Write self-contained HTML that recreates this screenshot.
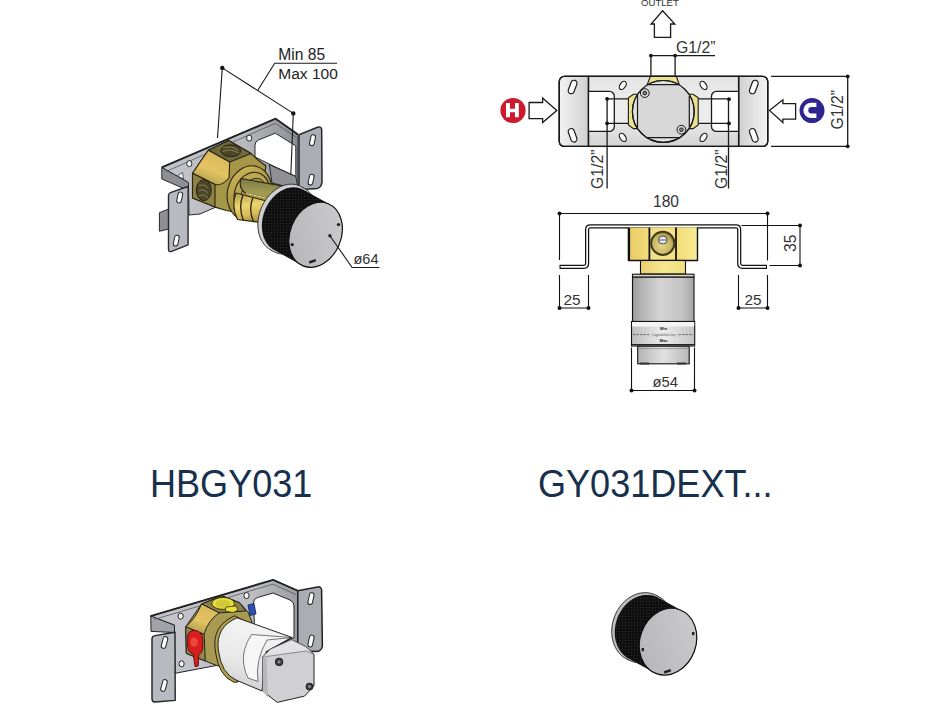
<!DOCTYPE html>
<html><head><meta charset="utf-8">
<style>
html,body{margin:0;padding:0;background:#fff;}
body{width:946px;height:710px;overflow:hidden;position:relative;font-family:"Liberation Sans",sans-serif;}
svg{position:absolute;left:0;top:0;}
text{font-family:"Liberation Sans",sans-serif;}
</style></head>
<body>
<svg width="946" height="710" viewBox="0 0 946 710">
<defs>
  <linearGradient id="plL" x1="0" y1="0" x2="1" y2="0">
    <stop offset="0" stop-color="#f2f2f2"/><stop offset="1" stop-color="#d0d0d0"/>
  </linearGradient>
  <linearGradient id="plR" x1="0" y1="0" x2="1" y2="0">
    <stop offset="0" stop-color="#d0d0d0"/><stop offset="1" stop-color="#f2f2f2"/>
  </linearGradient>
  <linearGradient id="plM" x1="0" y1="0" x2="0" y2="1">
    <stop offset="0" stop-color="#e4e4e4"/><stop offset="0.5" stop-color="#f0f0f0"/><stop offset="1" stop-color="#d4d4d4"/>
  </linearGradient>
  <linearGradient id="brassV" x1="0" y1="0" x2="1" y2="0">
    <stop offset="0" stop-color="#d9b640"/><stop offset="0.5" stop-color="#f3e07a"/><stop offset="1" stop-color="#d2ad36"/>
  </linearGradient>
  <linearGradient id="cart" x1="0" y1="0" x2="1" y2="0">
    <stop offset="0" stop-color="#9a9a9a"/><stop offset="0.15" stop-color="#b4b4b4"/><stop offset="0.45" stop-color="#d4d4d4"/><stop offset="0.8" stop-color="#c4c4c4"/><stop offset="1" stop-color="#a6a6a6"/>
  </linearGradient>
  <linearGradient id="band" x1="0" y1="0" x2="1" y2="0">
    <stop offset="0" stop-color="#bdbdbd"/><stop offset="0.5" stop-color="#ececec"/><stop offset="1" stop-color="#c4c4c4"/>
  </linearGradient>
  <linearGradient id="nut" x1="0" y1="0" x2="1" y2="0">
    <stop offset="0" stop-color="#b4b4b4"/><stop offset="0.5" stop-color="#e2e2e2"/><stop offset="1" stop-color="#b8b8b8"/>
  </linearGradient>
  <linearGradient id="brk1" x1="0" y1="0" x2="1" y2="0">
    <stop offset="0" stop-color="#c4c6cc"/><stop offset="0.6" stop-color="#b8bac0"/><stop offset="1" stop-color="#8c8e94"/>
  </linearGradient>
  <linearGradient id="brassHi" x1="0" y1="1" x2="0.4" y2="0">
    <stop offset="0" stop-color="#9c9448"/><stop offset="0.55" stop-color="#e4c462"/><stop offset="1" stop-color="#d8b85a"/>
  </linearGradient>
  <linearGradient id="brassRing" x1="0" y1="0" x2="1" y2="1">
    <stop offset="0" stop-color="#dcc060"/><stop offset="0.5" stop-color="#a49444"/><stop offset="1" stop-color="#cdb456"/>
  </linearGradient>
  <linearGradient id="spin" x1="0" y1="0" x2="0" y2="1">
    <stop offset="0" stop-color="#8e8a48"/><stop offset="0.5" stop-color="#c8b456"/><stop offset="0.8" stop-color="#ecd070"/><stop offset="1" stop-color="#b49a40"/>
  </linearGradient>
  <linearGradient id="brk2" x1="0" y1="0" x2="1" y2="0">
    <stop offset="0" stop-color="#c4c6cc"/><stop offset="0.7" stop-color="#bcbec4"/><stop offset="1" stop-color="#9a9ca2"/>
  </linearGradient>
  <linearGradient id="cylG" x1="0.3" y1="0" x2="0" y2="1">
    <stop offset="0" stop-color="#f4f4f4"/><stop offset="0.55" stop-color="#e8e8e8"/><stop offset="1" stop-color="#c8c8c8"/>
  </linearGradient>
  <linearGradient id="cylEnd" x1="0" y1="0" x2="1" y2="0">
    <stop offset="0" stop-color="#cfcfcf"/><stop offset="1" stop-color="#ededed"/>
  </linearGradient>
  <linearGradient id="face" x1="1" y1="0" x2="0" y2="1">
    <stop offset="0" stop-color="#cdcdcf"/><stop offset="1" stop-color="#b4b4b6"/>
  </linearGradient>
  <linearGradient id="brL" x1="0" y1="0" x2="1" y2="0">
    <stop offset="0" stop-color="#e8cc62"/><stop offset="0.3" stop-color="#f2dc7e"/><stop offset="0.6" stop-color="#f8e894"/><stop offset="0.8" stop-color="#f2e084"/><stop offset="1" stop-color="#f8ec98"/>
  </linearGradient>
  <linearGradient id="brR" x1="0" y1="0" x2="1" y2="0">
    <stop offset="0" stop-color="#f2dc78"/><stop offset="1" stop-color="#f8ec96"/>
  </linearGradient>
  <linearGradient id="brN" x1="0" y1="0" x2="1" y2="0">
    <stop offset="0" stop-color="#ecd070"/><stop offset="0.5" stop-color="#f6e690"/><stop offset="1" stop-color="#f2e07c"/>
  </linearGradient>
  <radialGradient id="port" cx="0.45" cy="0.6" r="0.6">
    <stop offset="0" stop-color="#e6d890"/><stop offset="0.7" stop-color="#c8b460"/><stop offset="1" stop-color="#8c7c38"/>
  </radialGradient>
  <linearGradient id="spinO" x1="0" y1="0" x2="0" y2="1">
    <stop offset="0" stop-color="#7c7a44"/><stop offset="0.6" stop-color="#a49c54"/><stop offset="1" stop-color="#8c8444"/>
  </linearGradient>
  <linearGradient id="spinB" x1="0" y1="0" x2="0.2" y2="1">
    <stop offset="0" stop-color="#b0a04c"/><stop offset="0.45" stop-color="#ecd46e"/><stop offset="0.75" stop-color="#d8bc58"/><stop offset="1" stop-color="#a89440"/>
  </linearGradient>
  <pattern id="knurl" width="3" height="3" patternUnits="userSpaceOnUse">
    <rect width="3" height="3" fill="#0e0e0e"/><circle cx="1.5" cy="1.5" r="0.65" fill="#2a2a2a"/>
  </pattern>
</defs>

<!-- ============ TITLES ============ -->
<text x="150" y="497" font-size="38.5" fill="#16304d" transform="translate(150 0) scale(0.937 1) translate(-150 0)">HBGY031</text>
<text x="538" y="497" font-size="38.5" fill="#16304d" transform="translate(538 0) scale(0.937 1) translate(-538 0)">GY031DEXT...</text>

<!-- ============ PLAN VIEW (top right) ============ -->
<g id="plan" stroke="#1a1a1a" stroke-width="1.3" fill="none">
  <text x="641" y="5.6" font-size="9.6" fill="#333" stroke="none">OUTLET</text>
  <path d="M662.6 10.7 L674.8 24 L670.6 24 L670.6 37.4 L654.4 37.4 L654.4 24 L651.1 24 Z" fill="#fff"/>
  <!-- plate -->
  <rect x="559.3" y="76.4" width="208.4" height="70" rx="5" fill="#dcdcdc"/>
  <path d="M564.3 76.4 H588.5 V146.4 H564.3 A5 5 0 0 1 559.3 141.4 V81.4 A5 5 0 0 1 564.3 76.4Z" fill="url(#plL)"/>
  <path d="M738.6 76.4 H762.7 A5 5 0 0 1 767.7 81.4 V141.4 A5 5 0 0 1 762.7 146.4 H738.6 Z" fill="url(#plR)"/>
  <rect x="588.5" y="76.4" width="150.1" height="70" fill="url(#plM)"/>
  <!-- pipe band -->
  <rect x="607" y="98.8" width="122" height="24.6" fill="#ececec" stroke="none"/>
  <!-- inner rounded rects -->
  <path d="M588.5 91.3 H609.3 A5 5 0 0 1 614.3 96.3 V126.4 A5 5 0 0 1 609.3 131.4 H588.5" fill="#fff"/>
  <path d="M738.6 91.3 H716.5 A5 5 0 0 0 711.5 96.3 V126.4 A5 5 0 0 0 716.5 131.4 H738.6" fill="#fff"/>
  <rect x="559.3" y="76.4" width="208.4" height="70" rx="5" fill="none"/>
  <line x1="588.5" y1="76.4" x2="588.5" y2="146.4"/>
  <line x1="738.6" y1="76.4" x2="738.6" y2="146.4"/>
  <!-- pipe lines -->
  <line x1="607" y1="98.8" x2="729" y2="98.8"/>
  <line x1="607" y1="123.4" x2="729" y2="123.4"/>
  <!-- slots -->
  <g fill="#fff" stroke-width="1.2">
    <rect x="-3" y="-7" width="6" height="14" rx="3" transform="translate(572.6 87) rotate(20)"/>
    <rect x="-3" y="-7" width="6" height="14" rx="3" transform="translate(572.6 135.3) rotate(-20)"/>
    <rect x="-3" y="-7" width="6" height="14" rx="3" transform="translate(753.8 87) rotate(20)"/>
    <rect x="-3" y="-7" width="6" height="14" rx="3" transform="translate(753.8 135.3) rotate(-20)"/>
    <ellipse cx="0" cy="0" rx="2.8" ry="4.6" transform="translate(622.8 85.4) rotate(35)"/>
    <ellipse cx="0" cy="0" rx="2.8" ry="4.6" transform="translate(622.8 137.4) rotate(-35)"/>
    <ellipse cx="0" cy="0" rx="2.8" ry="4.6" transform="translate(703.5 85.4) rotate(-35)"/>
    <ellipse cx="0" cy="0" rx="2.8" ry="4.6" transform="translate(703.5 137.4) rotate(35)"/>
  </g>
  <!-- brass lugs -->
  <path d="M650.4 76.4 H676.3 L680.5 88 H646 Z" fill="#ece290" stroke-width="1.1"/>
  <path d="M628.4 97.8 L633.5 94.2 H642 V128.6 H633.5 L628.4 125 Z" fill="#ece290" stroke-width="1.1"/>
  <path d="M698.2 97.8 L693.1 94.2 H684.6 V128.6 H693.1 L698.2 125 Z" fill="#ece290" stroke-width="1.1"/>
  <!-- body -->
  <circle cx="663.3" cy="111.4" r="30.9" fill="#e2e2e2" stroke-width="1.2"/>
  <path d="M647 84.6 H679.7 L689.3 95.9 V127.4 L679.7 137.6 H646.8 L637.5 128 V94.2 Z" fill="#d8d8d8" stroke="none"/>
  <path d="M647 84.6 H679.7 M689.3 95.9 V127.4 M679.7 137.6 H646.8 M637.5 128 V94.2" stroke-width="1.2"/>
  <circle cx="663.3" cy="111.4" r="30.9" fill="none" stroke-width="1.2"/>
  <g fill="#d4d4d4" stroke-width="1">
    <circle cx="644.8" cy="93.1" r="4.4"/><circle cx="644.8" cy="93.1" r="1.8" fill="#8a8a8a"/>
    <circle cx="681.4" cy="129.7" r="4.4"/><circle cx="681.4" cy="129.7" r="1.8" fill="#8a8a8a"/>
  </g>
  <!-- dims inside -->
  <line x1="607.1" y1="98.8" x2="607.1" y2="188.5"/>
  <line x1="728.5" y1="98.8" x2="728.5" y2="188.5"/>
  <g fill="#111" stroke="none">
    <circle cx="607.1" cy="98.8" r="1.9"/><circle cx="607.1" cy="123.3" r="1.9"/>
    <circle cx="729" cy="99.2" r="1.9"/><circle cx="729" cy="123.4" r="1.9"/>
    <circle cx="650.9" cy="55.6" r="1.9"/><circle cx="675.1" cy="55.6" r="1.9"/>
    <circle cx="847.7" cy="76.4" r="1.9"/><circle cx="847.7" cy="146.3" r="1.9"/>
  </g>
  <!-- top G1/2 dim -->
  <polyline points="650.9,75.8 650.9,55.6 715,55.6"/>
  <line x1="675.1" y1="55.6" x2="675.1" y2="75.8"/>
  <text x="676" y="52.5" font-size="15.8" fill="#333" stroke="none">G1/2”</text>
  <!-- right G1/2 dim -->
  <polyline points="771,76.4 847.7,76.4 847.7,146.3 771,146.3"/>
  <text transform="translate(843 129.5) rotate(-90)" font-size="15.8" fill="#333" stroke="none">G1/2”</text>
  <text transform="translate(603.2 189) rotate(-90)" font-size="15.8" fill="#333" stroke="none">G1/2”</text>
  <text transform="translate(727 189) rotate(-90)" font-size="15.8" fill="#333" stroke="none">G1/2”</text>
  <!-- arrows -->
  <path d="M556.8 110.4 L542.6 98 L542.6 102.5 L529.1 102.5 L529.1 118.7 L542.6 118.7 L542.6 122.6 Z" fill="#fff"/>
  <path d="M769.4 110.4 L782.9 99.8 L782.9 103.6 L795.6 103.6 L795.6 119.2 L782.9 119.2 L782.9 122.6 Z" fill="#fff"/>
  <circle cx="513" cy="110.5" r="12.6" fill="#cc1a2e" stroke="none"/>
  <path d="M506 102.9 H510 V108.7 H515 V102.9 H518.8 V117.3 H515 V112.2 H510 V117.3 H506 Z" fill="#fff" stroke="none"/>
  <circle cx="812" cy="110.6" r="12.5" fill="#2e2590" stroke="none"/>
  <path d="M816.4 102.7 H811 A7.65 7.65 0 0 0 811 118 H816.4 V113.5 H811.5 A3.2 3.2 0 0 1 811.5 107.1 H816.4 Z" fill="#fff" stroke="none"/>
</g>

<!-- ============ SIDE VIEW (top right lower) ============ -->
<g id="side" stroke="#111" stroke-width="1.1" fill="none">
  <text x="653" y="207.4" font-size="15.6" fill="#333" stroke="none">180</text>
  <polyline points="559.5,260 559.5,213.5 767.5,213.5 767.5,260.5"/>
  <g fill="#111" stroke="none">
    <circle cx="559.5" cy="213.5" r="2"/><circle cx="767.5" cy="213.5" r="2"/>
    <circle cx="800" cy="225.5" r="2"/><circle cx="800" cy="265.5" r="2"/>
    <circle cx="559.5" cy="308" r="2"/><circle cx="588.5" cy="308" r="2"/>
    <circle cx="738.5" cy="308" r="2"/><circle cx="767.5" cy="308" r="2"/>
    <circle cx="631.5" cy="390.5" r="2"/><circle cx="694.5" cy="390.5" r="2"/>
  </g>
  <!-- bracket profile -->
  <path d="M559.5 266.8 H584 Q587.1 266.8 587.1 263.5 V229.5 Q587.1 226.4 590.5 226.4 H736 Q739.2 226.4 739.2 229.5 V263.5 Q739.2 266.8 742.5 266.8 H767" stroke="#111" stroke-width="4.2"/>
  <path d="M560.6 266.8 H584 Q587.1 266.8 587.1 263.5 V229.5 Q587.1 226.4 590.5 226.4 H736 Q739.2 226.4 739.2 229.5 V263.5 Q739.2 266.8 742.5 266.8 H766" stroke="#fff" stroke-width="1.7"/>
  <!-- 35 dim -->
  <polyline points="741.5,225.5 800,225.5 800,265.5 769.5,265.5"/>
  <text transform="translate(796 252) rotate(-90)" font-size="15.8" fill="#333" stroke="none">35</text>
  <!-- 25 dims -->
  <polyline points="559.5,275 559.5,308 588.5,308 588.5,275"/>
  <polyline points="738.5,275 738.5,308 767.5,308 767.5,275"/>
  <text x="563.5" y="305.4" font-size="15.4" fill="#333" stroke="none">25</text>
  <text x="744.5" y="305.4" font-size="15.4" fill="#333" stroke="none">25</text>
  <!-- brass body -->
  <rect x="628.5" y="227.5" width="69" height="33" fill="url(#brL)" stroke="none"/>
  <rect x="649.5" y="227.5" width="26.5" height="33" fill="#f2e08a" stroke="none"/>
  <rect x="676.5" y="227.5" width="21" height="33" fill="url(#brR)" stroke="none"/>
  <line x1="649.4" y1="227.5" x2="649.4" y2="260.5" stroke-width="1.8"/>
  <line x1="676" y1="227.5" x2="676" y2="260.5" stroke-width="1.8"/>
  <path d="M628.5 227.5 V260.5 H697.5 V227.5" stroke-width="1.4"/>
  <line x1="629" y1="228" x2="629" y2="260" stroke-width="2.2"/>
  <circle cx="662.8" cy="243.3" r="11.6" fill="url(#port)" stroke="#3e3818" stroke-width="2"/>
  <rect x="658.6" y="236.2" width="8.4" height="7.6" rx="3.6" fill="#e6eef4" stroke="#333" stroke-width="0.9"/>
  <line x1="659" y1="240" x2="666.6" y2="240" stroke="#556" stroke-width="1"/>
  <!-- neck -->
  <rect x="640.5" y="260.5" width="45" height="13.5" fill="url(#brN)" stroke-width="1.1"/>
  <!-- cartridge -->
  <rect x="632.5" y="274.2" width="61.5" height="3" fill="#dcd8c6" stroke-width="1.1"/>
  <rect x="632.5" y="277.2" width="61.5" height="44.3" fill="url(#cart)" stroke-width="1.1"/>
  <rect x="631.5" y="321.5" width="63.2" height="24.5" fill="url(#band)" stroke-width="1.1"/>
  <rect x="632" y="322" width="62.2" height="4.5" fill="#f4f4f4" stroke="none"/>
  <line x1="632" y1="344.6" x2="694" y2="344.6" stroke-width="1"/>
  <line x1="633" y1="334.6" x2="693" y2="334.6" stroke="#444" stroke-width="0.7" stroke-dasharray="2.5 1"/>
  <rect x="650" y="333.2" width="27" height="2.8" fill="#e2e2e2" stroke="none"/>
  <text x="663.6" y="335.8" font-size="3" fill="#555" stroke="none" text-anchor="middle">Logystar/lock ring</text>
  <text x="663.6" y="330" font-size="4.2" fill="#222" stroke="none" text-anchor="middle" font-weight="bold">Min</text>
  <text x="663.6" y="342" font-size="4.2" fill="#222" stroke="none" text-anchor="middle" font-weight="bold">Max</text>
  <rect x="637.7" y="346.2" width="51.5" height="17.6" fill="url(#nut)" stroke-width="1.1"/>
  <line x1="638" y1="348.6" x2="689" y2="348.6" stroke="#888" stroke-width="0.7"/>
  <rect x="640" y="362.5" width="9" height="2" fill="#333" stroke="none"/>
  <rect x="677" y="362.5" width="9" height="2" fill="#333" stroke="none"/>
  <!-- 54 dim -->
  <polyline points="631.5,347.5 631.5,390.5 694.5,390.5 694.5,347.5"/>
  <text x="652.5" y="387.2" font-size="14.8" fill="#333" stroke="none">ø54</text>
</g>

<!-- ============ ISO PRODUCT 1 (top left) ============ -->
<g id="iso1">
  <!-- dimension Min/Max -->
  <g stroke="#1a1a1a" stroke-width="1.1" fill="none">
    <line x1="222.3" y1="67.9" x2="293.3" y2="113.4"/>
    <polyline points="257.8,90.3 274.7,63.3 337.1,63.3"/>
    <line x1="222.3" y1="67.9" x2="217.5" y2="138"/>
  </g>
  <circle cx="222.3" cy="67.9" r="2.2" fill="#111"/>
  <circle cx="293.3" cy="113.4" r="2.2" fill="#111"/>
  <text x="278.3" y="59.7" font-size="15.6" fill="#222">Min 85</text>
  <text x="278.3" y="78.7" font-size="15.5" fill="#222">Max 100</text>

  <!-- bracket back plate -->
  <g stroke="#2a2a2e" stroke-width="1" stroke-linejoin="round">
    <path d="M161.8 167.4 L275.6 118.7 L298 134.5 L298 189 L271 183 L200 214 L189 215 L188.5 183 Z" fill="url(#brk1)"/>
    <path d="M255 145 Q255 141.5 258.5 140 L275.4 133.2 L295.8 146 L295.8 176.5 L270.3 164.6 L255 157 Z" fill="#fff"/>
    <path d="M269.3 164.6 L295.8 176.5 L298.5 189.5 L272 183 Z" fill="#8f9095"/>
    <path d="M299 134.8 L317.5 127.2 Q321.5 126 321.7 130 L322 182 Q321.5 187.5 317 188.5 L302 189.5 L299 187 Z" fill="#abadb4" stroke-width="1.5"/>
    <path d="M161.8 167.4 L188.5 182.5 L188.5 190.5 L161.8 179 Z" fill="#8e8f95"/>
    <path d="M177.5 176 L182.5 172.5 L183.5 179 Z" fill="#fff" stroke="#333" stroke-width="0.8"/>
    <path d="M159.4 212.7 L168.7 209 L168.7 229 L159.4 231.3 Z" fill="#8e8f94"/>
    <path d="M171 192.4 L188.1 186.5 L188.1 244.8 L171 251.6 Q168.5 252 168.5 249 L168.5 195 Q168.7 193 171 192.4 Z" fill="#b8bac1" stroke-width="1.4"/>
  </g>
  <polyline points="161.8,167.4 275.6,118.7 298,134.5" fill="none" stroke="#222" stroke-width="1.8" stroke-linejoin="round"/>
  <polyline points="166,171.5 275.4,123.3 296.5,137.5" fill="none" stroke="#55565c" stroke-width="0.8" stroke-linejoin="round"/>
  <line x1="293.3" y1="113.4" x2="290.8" y2="175" stroke="#1a1a1a" stroke-width="1.1"/>
  <g fill="#fff" stroke="#222" stroke-width="1">
    <ellipse cx="249.2" cy="138.1" rx="2.6" ry="3"/>
    <ellipse cx="189.3" cy="163.6" rx="2.6" ry="3"/>
    <rect x="-2.3" y="-5.5" width="4.6" height="11" rx="2.3" transform="translate(312.5 140.2) rotate(12)"/>
    <rect x="-2.3" y="-5.5" width="4.6" height="11" rx="2.3" transform="translate(311.1 179.6) rotate(12)"/>
    <rect x="-2.3" y="-5.5" width="4.6" height="11" rx="2.3" transform="translate(179.7 197.5) rotate(12)"/>
    <rect x="-2.3" y="-5.5" width="4.6" height="11" rx="2.3" transform="translate(176.3 240.6) rotate(12)"/>
  </g>

  <!-- brass body -->
  <g stroke="#2a2410" stroke-width="1.1" stroke-linejoin="round">
    <path d="M192.5 173.3 L208.3 150.2 L228.6 140.6 L251.1 153.6 L258 160 L266 166 L262 192 L246 214 L226.3 210.5 L215 207.1 L192.5 198.1 Z" fill="#a59648"/>
    <path d="M208.3 150.2 L228.6 140.6 L251.1 153.6 L229.7 162 Z" fill="#6e6a3e"/>
    <ellipse cx="230.8" cy="150.8" rx="10" ry="6" fill="#4c4628" stroke-width="1"/>
    <path d="M223 148 Q231 145 238 150 M222.5 151.5 Q231 148 239 153" stroke="#9a9060" stroke-width="0.8" fill="none"/>
    <path d="M208.3 150.2 L229.7 162 L229 178 Q222 186 215 184.6 L192.5 173.3 Q200 162 208.3 150.2 Z" fill="url(#brassHi)"/>
    <path d="M192.5 173.3 L215 184.6 L215 207.1 L192.5 198.1 Z" fill="#8c8244"/>
    <ellipse cx="203.8" cy="190.2" rx="7.5" ry="10.5" fill="#4c4628" stroke-width="1"/>
    <path d="M199 186 Q204 183 208 188 M199 191 Q204 188 208 193 M199 196 Q204 193 208 198" stroke="#9a9060" stroke-width="0.8" fill="none"/>
    <!-- ring flange -->
    <ellipse cx="249.5" cy="193" rx="22" ry="27.5" transform="rotate(15 249.5 193)" fill="url(#brassRing)"/>
    <ellipse cx="252" cy="194.5" rx="17.5" ry="22.5" transform="rotate(15 252 194.5)" fill="#bca850"/>
    <ellipse cx="254" cy="196" rx="13" ry="18" transform="rotate(15 254 196)" fill="#a89a4c" stroke-width="0.9"/>
    <!-- spindle -->
    <path d="M241 178.5 L284.5 186.5 L288 203 L246 193.5 Q238 188 241 178.5 Z" fill="url(#spinO)"/>
    <path d="M236 193 L270 202 Q276 212 268 223.5 L237.5 219.5 Q231 206 236 193 Z" fill="url(#spinB)"/>
    <g fill="none" stroke-width="1">
      <path d="M243 195 Q238 207 243.5 220.5" stroke-width="1.3"/>
      <path d="M253 197.5 Q248 209 253.5 221.8" stroke-width="1.3"/>
      <path d="M246 193.5 L288 203" stroke="#f0e090" stroke-width="1"/>
    </g>
  </g>
  </g>

  <!-- knob -->
  <g>
    <path d="M257.9 224.2 L257.9 223.3 L258.0 222.4 L258.0 221.5 L258.1 220.6 L258.2 219.7 L258.3 218.8 L258.4 217.9 L258.6 217.1 L258.8 216.2 L259.0 215.3 L259.2 214.4 L259.4 213.5 L259.7 212.6 L259.9 211.7 L260.2 210.9 L260.5 210.0 L260.8 209.1 L261.2 208.3 L261.5 207.4 L261.9 206.6 L262.3 205.7 L262.7 204.9 L263.1 204.1 L263.5 203.3 L264.0 202.5 L264.5 201.7 L264.9 200.9 L265.4 200.2 L265.9 199.4 L266.5 198.7 L267.0 198.0 L267.6 197.2 L268.1 196.6 L268.7 195.9 L269.3 195.2 L269.9 194.6 L270.5 193.9 L271.1 193.3 L271.7 192.7 L272.4 192.1 L273.0 191.6 L273.7 191.0 L274.3 190.5 L275.0 190.0 L275.7 189.5 L276.4 189.0 L277.1 188.6 L277.8 188.2 L278.5 187.7 L279.2 187.3 L279.9 187.0 L280.6 186.6 L281.3 186.3 L282.1 186.0 L282.8 185.7 L283.5 185.5 L284.3 185.2 L285.0 185.0 L285.7 184.8 L286.5 184.7 L287.2 184.6 L287.9 184.4 L288.7 184.3 L289.4 184.3 L290.1 184.2 L290.9 184.2 L291.6 184.2 L292.3 184.2 L293.0 184.2 L293.7 184.3 L294.4 184.4 L295.1 184.5 L295.8 184.7 L296.5 184.8 L297.2 185.0 L297.9 185.2 L298.5 185.4 L299.2 185.7 L299.8 186.0 L300.5 186.3 L301.1 186.6 L301.7 186.9 L304.3 188.4 L304.9 188.8 L305.5 189.2 L306.1 189.6 L306.6 190.0 L307.2 190.4 L307.8 190.9 L308.3 191.4 L308.8 191.9 L309.3 192.4 L309.8 192.9 L310.3 193.5 L310.7 194.1 L311.2 194.7 L311.6 195.3 L312.0 195.9 L312.4 196.6 L312.8 197.2 L313.2 197.9 L313.5 198.6 L313.9 199.3 L314.2 200.0 L314.5 200.8 L314.7 201.5 L315.0 202.3 L315.2 203.1 L315.5 203.8 L315.7 204.6 L315.9 205.4 L316.2 207.1 L316.3 207.9 L316.4 208.7 L316.5 209.6 L316.6 210.4 L316.6 211.3 L316.7 212.2 L316.7 213.1 L316.7 213.9 L316.7 214.8 L316.6 215.7 L316.6 216.6 L316.5 217.5 L316.4 218.4 L316.3 219.3 L316.1 220.2 L316.0 221.1 L315.8 221.9 L315.6 222.8 L315.4 223.7 L315.2 224.6 L314.9 225.5 L314.7 226.4 L314.4 227.2 L314.1 228.1 L313.8 229.0 L313.4 229.8 L313.1 230.7 L312.7 231.5 L312.3 232.4 L311.9 233.2 L311.5 234.0 L311.1 234.8 L310.6 235.6 L310.1 236.4 L309.7 237.2 L309.2 237.9 L308.7 238.7 L308.1 239.4 L307.6 240.1 L307.1 240.8 L306.5 241.6 L305.9 242.2 L305.3 242.9 L304.7 243.5 L304.1 244.2 L303.5 244.8 L302.9 245.4 L302.2 246.0 L301.6 246.5 L300.9 247.1 L300.3 247.6 L299.6 248.1 L298.9 248.6 L298.2 249.1 L297.5 249.5 L296.8 249.9 L296.1 250.4 L295.4 250.8 L294.7 251.1 L294.0 251.5 L293.3 251.8 L292.5 252.1 L291.8 252.4 L291.1 252.6 L290.3 252.8 L289.6 253.1 L288.9 253.2 L288.1 253.4 L287.4 253.6 L286.7 253.7 L285.9 253.8 L285.2 253.8 L284.5 253.9 L283.7 253.9 L283.0 253.9 L282.3 253.9 L281.6 253.8 L280.9 253.8 L280.2 253.7 L279.5 253.6 L278.8 253.4 L278.1 253.3 L277.4 253.1 L276.7 252.9 L276.1 252.7 L275.4 252.4 L274.8 252.1 L274.1 251.8 L273.5 251.5 L272.9 251.2 L270.3 249.7 L269.7 249.3 L269.1 248.9 L268.5 248.5 L267.9 248.1 L267.4 247.7 L266.9 247.2 L266.3 246.7 L265.8 246.2 L265.3 245.7 L264.8 245.2 L264.3 244.6 L263.9 244.0 L263.4 243.4 L263.0 242.8 L262.6 242.2 L262.2 241.5 L261.8 240.9 L261.4 240.2 L261.1 239.5 L260.8 238.8 L260.4 238.1 L260.1 237.3 L259.9 236.6 L259.6 235.8 L259.4 235.1 L259.1 234.3 L258.9 233.5 L258.7 232.7 L258.6 231.8 L258.4 231.0 L258.3 230.2 L258.2 229.4 L258.1 228.5 L258.0 227.7 L257.9 226.8 L257.9 225.9 L257.9 225.1Z" fill="#d0d0d0" stroke="#222" stroke-width="1"/>
    <path d="M261.8 226.2 L261.8 225.4 L261.9 224.6 L261.9 223.7 L261.9 222.9 L262.0 222.0 L262.1 221.2 L262.2 220.3 L262.4 219.5 L262.5 218.6 L262.7 217.8 L262.9 216.9 L263.3 215.2 L263.5 214.4 L263.8 213.6 L264.1 212.7 L264.3 211.9 L264.6 211.1 L265.0 210.2 L265.3 209.4 L265.6 208.6 L266.0 207.8 L266.4 207.1 L266.8 206.3 L267.2 205.5 L267.6 204.8 L268.1 204.0 L268.5 203.3 L269.0 202.5 L269.5 201.8 L270.0 201.1 L270.5 200.4 L271.0 199.8 L271.6 199.1 L272.1 198.4 L272.7 197.8 L273.2 197.2 L273.8 196.6 L274.4 196.0 L275.0 195.4 L275.6 194.9 L276.2 194.3 L276.9 193.8 L277.5 193.3 L278.1 192.8 L278.8 192.4 L279.4 191.9 L280.1 191.5 L280.8 191.1 L281.4 190.7 L282.1 190.3 L282.8 190.0 L283.5 189.7 L284.2 189.3 L284.9 189.1 L285.6 188.8 L286.2 188.6 L286.9 188.3 L287.6 188.1 L288.4 187.9 L289.1 187.8 L289.8 187.7 L290.4 187.5 L291.1 187.4 L291.8 187.4 L292.5 187.3 L293.2 187.3 L293.9 187.3 L294.6 187.3 L295.3 187.4 L296.0 187.4 L296.6 187.5 L297.3 187.6 L298.0 187.8 L298.6 187.9 L299.3 188.1 L299.9 188.3 L300.5 188.5 L301.1 188.7 L301.8 189.0 L302.4 189.3 L303.0 189.6 L330.0 204.6 L330.6 204.9 L331.1 205.2 L331.7 205.6 L332.2 206.0 L332.8 206.4 L333.3 206.8 L333.8 207.3 L334.4 207.7 L334.8 208.2 L335.3 208.7 L335.8 209.2 L336.2 209.8 L336.7 210.3 L337.1 210.9 L337.5 211.5 L337.9 212.1 L338.3 212.7 L338.6 213.3 L339.0 213.9 L339.3 214.6 L339.6 215.3 L339.9 216.0 L340.2 216.7 L340.5 217.4 L340.8 218.1 L341.0 218.8 L341.2 219.6 L341.4 220.3 L341.6 221.1 L341.7 221.9 L341.9 222.7 L342.0 223.5 L342.1 224.3 L342.2 225.1 L342.3 225.9 L342.3 226.7 L342.4 227.5 L342.4 228.4 L342.4 229.2 L342.3 230.1 L342.3 230.9 L342.2 231.7 L342.2 232.6 L342.1 233.4 L342.0 234.3 L341.8 235.1 L341.7 236.0 L341.5 236.8 L341.3 237.7 L340.9 239.4 L340.7 240.2 L340.4 241.1 L340.1 241.9 L339.9 242.7 L339.6 243.5 L339.2 244.3 L338.9 245.2 L338.6 246.0 L338.2 246.8 L337.8 247.6 L337.4 248.3 L337.0 249.1 L336.6 249.8 L336.1 250.6 L335.7 251.3 L335.2 252.1 L334.7 252.8 L334.2 253.5 L333.7 254.2 L333.2 254.8 L332.6 255.5 L332.1 256.2 L331.5 256.8 L331.0 257.4 L330.4 258.0 L329.8 258.6 L329.2 259.2 L328.6 259.7 L328.0 260.3 L327.4 260.8 L326.7 261.3 L326.1 261.8 L325.4 262.2 L324.8 262.7 L324.1 263.1 L323.4 263.5 L322.8 263.9 L322.1 264.3 L321.4 264.6 L320.7 264.9 L320.0 265.3 L319.3 265.5 L318.6 265.8 L317.9 266.1 L317.2 266.3 L316.6 266.5 L315.9 266.6 L315.1 266.8 L314.4 266.9 L313.8 267.1 L313.1 267.1 L312.4 267.2 L311.7 267.3 L311.0 267.3 L310.3 267.3 L309.6 267.3 L308.9 267.2 L308.2 267.2 L307.6 267.1 L306.9 267.0 L306.2 266.8 L305.6 266.7 L304.9 266.5 L304.3 266.3 L303.7 266.1 L303.1 265.9 L302.4 265.6 L301.8 265.3 L301.2 265.0 L274.2 250.0 L273.6 249.7 L273.1 249.3 L272.5 249.0 L271.9 248.6 L271.4 248.2 L270.9 247.8 L270.4 247.3 L269.9 246.9 L269.4 246.4 L268.9 245.9 L268.4 245.4 L268.0 244.8 L267.5 244.3 L267.1 243.7 L266.7 243.1 L266.3 242.5 L265.9 241.9 L265.6 241.3 L265.2 240.7 L264.9 240.0 L264.6 239.3 L264.2 238.6 L264.0 237.9 L263.7 237.2 L263.4 236.5 L263.2 235.8 L263.0 235.0 L262.8 234.2 L262.6 233.5 L262.5 232.7 L262.3 231.9 L262.2 231.1 L262.1 230.3 L262.0 229.5 L261.9 228.7 L261.9 227.9 L261.9 227.1Z" fill="url(#knurl)"/>
    <ellipse cx="315.6" cy="234.8" rx="25.5" ry="33.5" transform="rotate(22 315.6 234.8)" fill="url(#face)" stroke="#111" stroke-width="1.2"/>
    <circle cx="338.5" cy="224.6" r="1.7" fill="#222"/>
    <circle cx="292.2" cy="244.6" r="1.7" fill="#222"/>
    <circle cx="329.9" cy="235.7" r="1.7" fill="#222"/>
    <rect x="309" y="260" width="7" height="2.6" fill="#222" transform="rotate(-20 312.5 261.3)"/>
  </g>
  <polyline points="329.9,235.7 352.1,267.5 379.5,267.5" stroke="#1a1a1a" stroke-width="1.1" fill="none"/>
  <text x="353.4" y="263.8" font-size="14.6" fill="#333">ø64</text>
</g>

<!-- ============ ISO PRODUCT 2 (bottom left) ============ -->
<g id="iso2" stroke="#222" stroke-width="1" stroke-linejoin="round">
  <path d="M150.5 616.2 L273.1 579.9 L297.8 590.7 L297.8 650 L175 673.3 L174 625 Z" fill="url(#brk2)"/>
  <path d="M253.5 603 Q253.5 598.5 257.5 597.5 L273 593 L290 600 Q294 602 294 606 L294 638 L255 640 Z" fill="#fff"/>
  <path d="M150.8 616 L174.5 625.2 L174.5 632.5 L151 631.4 Z" fill="#a2a3a9"/>
  <path d="M297.8 590.7 L317.5 586.9 Q321.4 586.5 321.6 590 L322.4 646 Q322 650.5 317 651.6 L301 651 L297.8 650 Z" fill="#abadb4" stroke-width="1.5"/>
  <path d="M155 635.6 L175 632.2 L175.2 700.4 L155 702 Q152 702 152 699 L152 638.5 Q152.2 636 155 635.6 Z" fill="#b8bac1" stroke-width="1.4"/>
  <polyline points="150.5,616.2 273.1,579.9 297.8,590.7" fill="none" stroke="#222" stroke-width="1.8"/>
  <polyline points="154,619.5 272.8,584.2 296,594.5" fill="none" stroke="#55565c" stroke-width="0.8"/>
  <g fill="#fff" stroke-width="1">
    <ellipse cx="180.7" cy="616.2" rx="2.6" ry="3"/>
    <ellipse cx="246.5" cy="595.6" rx="2.6" ry="3"/>
    <ellipse cx="181.6" cy="663.8" rx="2.6" ry="3"/>
    <rect x="-2.3" y="-6" width="4.6" height="12" rx="2.3" transform="translate(311 598.6) rotate(12)"/>
    <rect x="-2.3" y="-6" width="4.6" height="12" rx="2.3" transform="translate(311 641) rotate(12)"/>
    <rect x="-2.3" y="-6" width="4.6" height="12" rx="2.3" transform="translate(164.5 642.5) rotate(15)"/>
    <rect x="-2.3" y="-6" width="4.6" height="12" rx="2.3" transform="translate(164 685.5) rotate(15)"/>
  </g>
  <!-- brass body -->
  <path d="M185.7 626.8 L201.5 604 L221.8 595.8 L239.6 602.7 L248 612 L252 622 L240 660 L218 666 L205.3 661 L186.3 653.4 Z" fill="#a89a50"/>
  <path d="M201.5 604 L221.8 595.8 L239.6 602.7 L246 611 L219.3 612.9 Z" fill="#8a7e44"/>
  <path d="M201.5 604 L219.3 612.9 Q208 620 204.1 634.4 L185.7 626.8 Q196 618 201.5 604 Z" fill="url(#brassHi)"/>
  <path d="M185.7 626.8 L204.1 634.4 L205.3 661 L186.3 653.4 Z" fill="#948648"/>
  <ellipse cx="223.1" cy="603.4" rx="11.4" ry="6" fill="#e6dc3c" stroke="#3a3410"/>
  <ellipse cx="223.1" cy="603.8" rx="7.5" ry="3.8" fill="#cfc838" stroke="none"/>
  <path d="M226 607 L236 606 L238 610 L233 612.5 L225 611 Z" fill="#ecdf3a" stroke="#3a3410" stroke-width="0.8"/>
  <path d="M248 605 L254 603.5 L256 614 L250 615.5 Z" fill="#2c50b4" stroke="#10204a" stroke-width="0.8"/>
  <!-- red handle -->
  <path d="M187.6 637 Q188 630.2 195 630.4 Q202.5 631.2 202.8 640 L202.6 649 Q201.5 654 198.8 654.2 L198.2 666 L195 666.6 L193.2 654 Q188 652.5 187.6 646 Z" fill="#d81e1e" stroke="#5a0a0a" stroke-width="0.9"/>
  <ellipse cx="194" cy="642" rx="3.5" ry="4.5" fill="#ff6a5a" stroke="none" opacity="0.55"/>
  <!-- cylinder -->
  <path d="M234.5 615.8 Q211.5 626 215.3 651 Q218.5 676 234 682.3 L238 682 Q230 668 230.5 648 Q231 630 244 620.5 Z" fill="#b0a050" stroke="#2a2410"/>
  <path d="M237 617.8 Q215.5 627 218.3 650 Q221.3 674 236.6 680.3 L262 691 L266 652 L292 637.5 Z" fill="url(#cylG)" stroke="#222"/>
  <path d="M251.5 634.5 Q241.5 650 243.7 664 Q245 673 248 678 L258 681.5 Q255 660 267 640 L292 637.5 Z" fill="#f6f6f6" stroke="#555" stroke-width="0.8"/>
  <path d="M266 652 L292 637.5" stroke="#222" stroke-width="1.4"/>
  <!-- cap -->
  <path d="M262.7 657 L270.3 649.2 L291.5 639.7 L305.7 646.7 L314 654.3 L314 686 L304.5 696.1 L277.2 702.4 L262.7 691 Z" fill="#d0d0d3"/>
  <path d="M262.7 657 L270.3 649.2 L291.5 639.7 L305.7 646.7 L314 654.3 L306 651 Z" fill="#e2e2e4" stroke="#555" stroke-width="0.6"/>
  <path d="M262.7 657 L266.5 656 L268 698 L262.7 691 Z" fill="#b8b8bb" stroke="none"/>
  <circle cx="279.1" cy="661.9" r="3.8" fill="#3a3a3a"/><circle cx="279.1" cy="661.9" r="1.6" fill="#8a8a8a" stroke="none"/>
  <circle cx="309.5" cy="686.6" r="3.5" fill="#3a3a3a"/><circle cx="309.5" cy="686.6" r="1.5" fill="#8a8a8a" stroke="none"/>
</g>

<!-- ============ KNOB (bottom right) ============ -->
<g id="knob2">
  <path d="M611.7 630.7 L611.8 629.8 L611.8 628.9 L611.9 628.0 L612.0 627.1 L612.1 626.2 L612.2 625.3 L612.4 624.4 L612.5 623.5 L612.7 622.6 L612.9 621.7 L613.2 620.8 L613.4 619.9 L613.7 619.0 L614.0 618.2 L614.3 617.3 L614.6 616.4 L614.9 615.6 L615.3 614.7 L615.7 613.9 L616.1 613.1 L616.5 612.2 L616.9 611.4 L617.4 610.6 L617.8 609.8 L618.3 609.1 L618.8 608.3 L619.3 607.5 L619.9 606.8 L620.4 606.1 L621.0 605.4 L621.5 604.7 L622.1 604.0 L622.7 603.4 L623.3 602.7 L623.9 602.1 L624.6 601.5 L625.2 600.9 L625.9 600.3 L626.5 599.7 L627.2 599.2 L627.9 598.7 L628.6 598.2 L629.3 597.7 L630.0 597.2 L630.8 596.8 L631.5 596.4 L632.2 596.0 L633.0 595.6 L633.7 595.3 L634.5 594.9 L635.2 594.6 L636.0 594.3 L636.8 594.1 L637.5 593.8 L638.3 593.6 L639.1 593.4 L639.9 593.2 L640.6 593.1 L641.4 593.0 L642.2 592.9 L643.0 592.8 L643.8 592.7 L644.5 592.7 L645.3 592.7 L646.1 592.7 L646.9 592.7 L647.6 592.8 L648.4 592.9 L649.1 593.0 L649.9 593.1 L650.6 593.3 L651.4 593.5 L652.1 593.7 L652.8 593.9 L653.5 594.1 L654.2 594.4 L654.9 594.7 L655.6 595.0 L658.3 596.4 L659.0 596.7 L659.6 597.1 L660.3 597.5 L660.9 597.9 L661.6 598.4 L662.2 598.8 L662.8 599.3 L663.4 599.8 L663.9 600.3 L664.5 600.9 L665.0 601.4 L665.6 602.0 L666.1 602.6 L666.6 603.2 L667.1 603.9 L667.5 604.5 L668.0 605.2 L668.4 605.9 L668.8 606.6 L669.2 607.3 L669.6 608.0 L670.0 608.7 L670.3 609.5 L670.7 610.3 L671.0 611.0 L671.3 611.8 L671.5 612.6 L671.8 613.4 L672.0 614.3 L672.2 615.1 L672.4 615.9 L672.6 616.8 L672.8 617.6 L672.9 618.5 L673.0 619.4 L673.1 620.2 L673.2 621.1 L673.2 622.0 L673.3 622.9 L673.3 623.8 L673.3 624.7 L673.2 625.6 L673.2 626.5 L673.1 627.4 L673.0 628.3 L672.9 629.2 L672.8 630.1 L672.6 631.0 L672.5 631.9 L672.3 632.8 L672.1 633.7 L671.8 634.6 L671.6 635.5 L671.3 636.4 L671.0 637.2 L670.7 638.1 L670.4 639.0 L670.1 639.8 L669.7 640.7 L669.3 641.5 L668.9 642.3 L668.5 643.2 L668.1 644.0 L667.6 644.8 L667.2 645.6 L666.7 646.3 L666.2 647.1 L665.7 647.9 L665.1 648.6 L664.6 649.3 L664.0 650.0 L663.5 650.7 L662.9 651.4 L662.3 652.0 L661.7 652.7 L661.1 653.3 L660.4 653.9 L659.8 654.5 L659.1 655.1 L658.5 655.7 L657.8 656.2 L657.1 656.7 L656.4 657.2 L655.7 657.7 L655.0 658.1 L654.2 658.6 L653.5 659.0 L652.8 659.4 L652.0 659.8 L651.3 660.1 L650.5 660.5 L649.8 660.8 L649.0 661.1 L648.2 661.3 L647.5 661.6 L646.7 661.8 L645.9 662.0 L645.1 662.2 L644.4 662.3 L643.6 662.4 L642.8 662.5 L642.0 662.6 L641.2 662.7 L640.5 662.7 L639.7 662.7 L638.9 662.7 L638.1 662.7 L637.4 662.6 L636.6 662.5 L635.9 662.4 L635.1 662.3 L634.4 662.1 L633.6 661.9 L632.9 661.7 L632.2 661.5 L631.5 661.3 L630.8 661.0 L630.1 660.7 L629.4 660.4 L626.7 659.0 L626.0 658.7 L625.4 658.3 L624.7 657.9 L624.1 657.5 L623.4 657.0 L622.8 656.6 L622.2 656.1 L621.6 655.6 L621.1 655.1 L620.5 654.5 L620.0 654.0 L619.4 653.4 L618.9 652.8 L618.4 652.2 L617.9 651.5 L617.5 650.9 L617.0 650.2 L616.6 649.5 L616.2 648.8 L615.8 648.1 L615.4 647.4 L615.0 646.7 L614.7 645.9 L614.3 645.1 L614.0 644.4 L613.7 643.6 L613.5 642.8 L613.2 642.0 L613.0 641.1 L612.8 640.3 L612.6 639.5 L612.4 638.6 L612.2 637.8 L612.1 636.9 L612.0 636.0 L611.9 635.1 L611.8 634.3 L611.8 633.4 L611.7 632.5 L611.7 631.6Z" fill="#bdbdbd" stroke="#222" stroke-width="1"/>
  <path d="M614.7 632.5 L614.7 631.6 L614.8 630.7 L614.8 629.8 L614.9 629.0 L615.0 628.1 L615.1 627.2 L615.2 626.4 L615.4 625.5 L615.5 624.6 L615.7 623.7 L615.9 622.9 L616.1 622.0 L616.4 621.2 L616.6 620.3 L616.9 619.5 L617.2 618.6 L617.5 617.8 L617.8 617.0 L618.2 616.1 L618.5 615.3 L618.9 614.5 L619.3 613.7 L619.8 613.0 L620.2 612.2 L620.6 611.4 L621.1 610.7 L621.6 609.9 L622.1 609.2 L622.6 608.5 L623.1 607.8 L623.6 607.1 L624.2 606.5 L624.8 605.8 L625.3 605.2 L625.9 604.5 L626.5 603.9 L627.1 603.3 L627.8 602.8 L628.4 602.2 L629.0 601.7 L629.7 601.1 L630.4 600.6 L631.0 600.2 L631.7 599.7 L632.4 599.3 L633.1 598.8 L633.8 598.4 L634.5 598.0 L635.2 597.7 L636.0 597.3 L636.7 597.0 L637.4 596.7 L638.2 596.5 L638.9 596.2 L639.7 596.0 L640.4 595.7 L641.2 595.5 L641.9 595.4 L642.7 595.2 L643.4 595.1 L644.2 595.0 L644.9 594.9 L645.7 594.9 L646.4 594.9 L647.2 594.9 L647.9 594.9 L648.7 594.9 L649.4 595.0 L650.1 595.0 L650.9 595.1 L651.6 595.3 L652.3 595.4 L653.0 595.6 L653.7 595.8 L654.4 596.0 L655.1 596.2 L655.8 596.5 L656.5 596.8 L657.2 597.1 L657.8 597.4 L658.5 597.8 L683.0 611.3 L683.6 611.6 L684.2 612.0 L684.9 612.4 L685.5 612.9 L686.0 613.3 L686.6 613.8 L687.2 614.3 L687.7 614.8 L688.3 615.3 L688.8 615.9 L689.3 616.4 L689.8 617.0 L690.3 617.6 L690.8 618.2 L691.2 618.8 L691.7 619.5 L692.1 620.1 L692.5 620.8 L692.9 621.5 L693.2 622.2 L693.6 622.9 L693.9 623.6 L694.2 624.4 L694.5 625.1 L694.8 625.9 L695.1 626.6 L695.3 627.4 L695.6 628.2 L695.8 629.0 L696.0 629.9 L696.1 630.7 L696.3 631.5 L696.4 632.3 L696.5 633.2 L696.6 634.0 L696.7 634.9 L696.7 635.7 L696.8 636.6 L696.8 637.5 L696.8 638.3 L696.7 639.2 L696.7 640.1 L696.6 640.9 L696.5 641.8 L696.4 642.7 L696.3 643.5 L696.1 644.4 L696.0 645.3 L695.8 646.2 L695.6 647.0 L695.4 647.9 L695.1 648.7 L694.9 649.6 L694.6 650.4 L694.3 651.3 L694.0 652.1 L693.7 652.9 L693.3 653.8 L693.0 654.6 L692.6 655.4 L692.2 656.2 L691.8 656.9 L691.3 657.7 L690.9 658.5 L690.4 659.2 L689.9 660.0 L689.4 660.7 L688.9 661.4 L688.4 662.1 L687.9 662.8 L687.3 663.4 L686.7 664.1 L686.2 664.7 L685.6 665.4 L685.0 666.0 L684.4 666.6 L683.7 667.1 L683.1 667.7 L682.5 668.2 L681.8 668.8 L681.1 669.2 L680.5 669.7 L679.8 670.2 L679.1 670.6 L678.4 671.1 L677.7 671.5 L677.0 671.9 L676.2 672.2 L675.5 672.6 L674.8 672.9 L674.1 673.2 L673.3 673.5 L672.6 673.7 L671.8 674.0 L671.1 674.2 L670.3 674.4 L669.6 674.5 L668.8 674.7 L668.1 674.8 L667.3 674.9 L666.6 675.0 L665.8 675.0 L665.1 675.0 L664.3 675.0 L663.6 675.0 L662.8 675.0 L662.1 674.9 L661.4 674.9 L660.6 674.8 L659.9 674.6 L659.2 674.5 L658.5 674.3 L657.8 674.1 L657.1 673.9 L656.4 673.6 L655.7 673.4 L655.0 673.1 L654.3 672.8 L653.7 672.5 L653.0 672.1 L628.5 658.6 L627.9 658.3 L627.3 657.9 L626.6 657.5 L626.0 657.0 L625.5 656.6 L624.9 656.1 L624.3 655.6 L623.8 655.1 L623.2 654.6 L622.7 654.0 L622.2 653.5 L621.7 652.9 L621.2 652.3 L620.7 651.7 L620.3 651.1 L619.8 650.4 L619.4 649.8 L619.0 649.1 L618.6 648.4 L618.3 647.7 L617.9 647.0 L617.6 646.3 L617.2 645.5 L617.0 644.8 L616.7 644.0 L616.4 643.2 L616.2 642.5 L615.9 641.7 L615.7 640.9 L615.5 640.0 L615.4 639.2 L615.2 638.4 L615.1 637.6 L615.0 636.7 L614.9 635.9 L614.8 635.0 L614.8 634.2 L614.8 633.3Z" fill="url(#knurl)"/>
  <ellipse cx="668" cy="641.7" rx="28" ry="34" transform="rotate(20 668 641.7)" fill="url(#face)" stroke="#111" stroke-width="1.2"/>
  <rect x="692" y="632" width="2.4" height="3.2" fill="#222"/>
  <rect x="641.6" y="648" width="2.4" height="3.2" fill="#222"/>
  <rect x="664" y="670" width="7" height="2.6" fill="#222" transform="rotate(-20 667.5 671.3)"/>
</g>
</svg>
</body></html>
